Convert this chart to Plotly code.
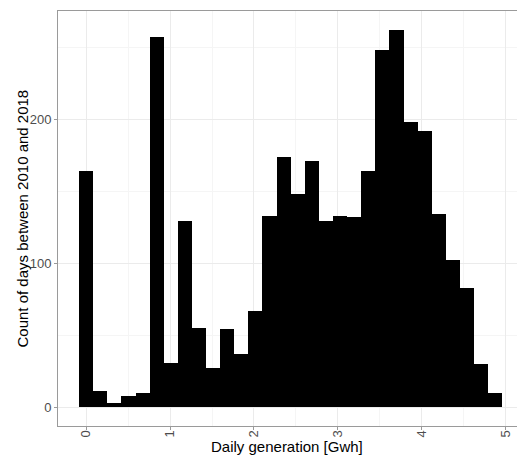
import plotly.graph_objects as go

# Histogram of daily generation: 30 bins of equal width, first bin centred on 0
bin_width = 0.1681
day_counts = [164, 11, 3, 8, 10, 257, 31, 129, 55, 27,
              54, 37, 67, 133, 174, 148, 171, 129, 133, 132,
              164, 248, 262, 198, 192, 134, 102, 83, 30, 10]
bin_centers = [i * bin_width for i in range(len(day_counts))]

x_ticks = [0, 1, 2, 3, 4, 5]
y_ticks = [0, 100, 200]

fig = go.Figure(
    go.Bar(
        x=bin_centers,
        y=day_counts,
        width=bin_width,
        marker=dict(color="black", line=dict(width=0)),
        showlegend=False,
    )
)

border = "#9a9a9a"
tick_font = dict(family="Liberation Sans, Arial, sans-serif", size=13, color="#4d4d4d")

fig.update_layout(
    width=517,
    height=457,
    margin=dict(l=58, r=0, t=11, b=31),
    paper_bgcolor="white",
    plot_bgcolor="white",
    bargap=0,
    font=dict(family="Liberation Sans, Arial, sans-serif"),
    xaxis=dict(
        range=[-0.336, 5.135],
        tickvals=x_ticks,
        ticktext=[str(v) for v in x_ticks],
        tickangle=-90,
        tickfont=tick_font,
        ticks="outside",
        ticklen=3,
        tickcolor=border,
        ticklabelstandoff=-5,
        showline=True,
        linecolor=border,
        linewidth=1,
        mirror=True,
        showgrid=True,
        gridcolor="#ebebeb",
        gridwidth=1,
        minor=dict(dtick=0.5, tick0=0.5, showgrid=True, gridcolor="#f5f5f5", gridwidth=1),
        zeroline=False,
        automargin=False,
    ),
    yaxis=dict(
        range=[-13.1, 275.1],
        tickvals=y_ticks,
        ticktext=[str(v) for v in y_ticks],
        tickfont=tick_font,
        ticks="outside",
        ticklen=3,
        tickcolor=border,
        showline=True,
        linecolor=border,
        linewidth=1,
        showgrid=True,
        gridcolor="#ebebeb",
        gridwidth=1,
        minor=dict(dtick=100, tick0=50, showgrid=True, gridcolor="#f5f5f5", gridwidth=1),
        zeroline=False,
        automargin=False,
    ),
    annotations=[
        dict(
            text="Daily generation [Gwh]",
            xref="x", yref="paper",
            x=(-0.336 + 5.135) / 2 - 0.01, y=0,
            yshift=-20,
            xanchor="center", yanchor="middle",
            showarrow=False,
            font=dict(size=15, color="black"),
        ),
        dict(
            text="Count of days between 2010 and 2018",
            xref="paper", yref="paper",
            x=0, y=0.5,
            xshift=-36,
            xanchor="center", yanchor="middle",
            textangle=-90,
            showarrow=False,
            font=dict(size=15, color="black"),
        ),
    ],
)

fig.write_html("out.html")
